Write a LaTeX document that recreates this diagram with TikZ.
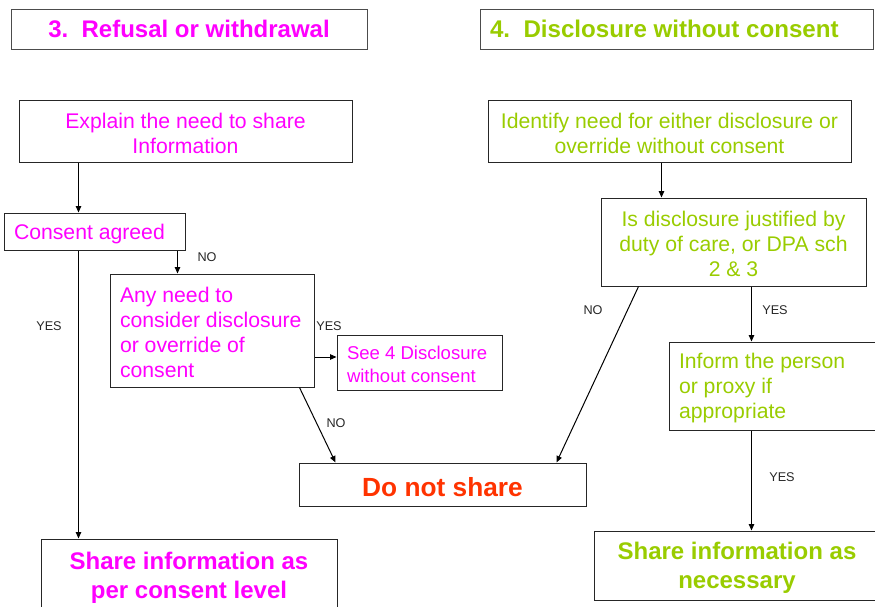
\documentclass[tikz,border=0pt]{standalone}
\usepackage{fontspec}
\setmainfont{Liberation Sans}
\usetikzlibrary{arrows.meta}
\definecolor{mag}{HTML}{FF00FF}
\definecolor{grn}{HTML}{99CC00}
\definecolor{rd}{HTML}{FF3300}
\def\u{0.75pt}
\tikzset{
  box/.style={draw=black!85, line width=0.75pt, inner xsep=10*\u, inner ysep=0pt, align=flush center},
  lbox/.style={box, align=flush left},
  lower/.style={execute at begin node={\rule{0pt}{0.95em}}},
  bodyfont/.style={lower, font=\fontsize{15.9}{18.75}\selectfont},
  smallfont/.style={lower, font=\fontsize{13.9}{17.25}\selectfont},
  bigfont/.style={lower, font=\fontsize{18}{21.75}\bfseries\selectfont},
  lbl/.style={font=\fontsize{9.5}{11}\selectfont, text=black!85, inner sep=0pt},
  arr/.style={-{Triangle[length=6.5*\u,width=5.5*\u]}, line width=0.75pt, black}
}
\begin{document}
\begin{tikzpicture}[x=0.75pt,y=-0.75pt]
\useasboundingbox (0,0) rectangle (875,607);
\clip (0,0) rectangle (875,607);
% titles
\node[box, minimum width=356*\u, minimum height=40*\u, text=mag, font=\fontsize{18}{21}\bfseries\selectfont, draw=black!70] (t3) at (189,29) {3.\ \ Refusal or withdrawal};
\node[lbox, text width=373*\u, minimum height=40*\u, text=grn, font=\fontsize{18.1}{21}\bfseries\selectfont, draw=black!70] (t4) at (676.5,29) {4.\ \ Disclosure without consent};
% left column
\node[box, bodyfont, text=mag, text width=313*\u, minimum height=62*\u] (explain) at (185.5,131) {Explain the need to share\\Information};
\node[lbox, bodyfont, text=mag, text width=161*\u, minimum height=37*\u] (consent) at (94.5,231.5) {Consent agreed};
\node[lbox, bodyfont, text=mag, text width=184*\u, minimum height=113*\u] (anyneed) at (212,330.5) {Any need to\\consider disclosure\\or override of\\consent};
\node[lbox, smallfont, text=mag, text width=145*\u, minimum height=55*\u] (see4) at (419.5,362.5) {See 4 Disclosure\\without consent};
\node[box, lower, text=rd, font=\fontsize{19.7}{23}\bfseries\selectfont, text width=267*\u, minimum height=43*\u] (donot) at (442.5,484.5) {Do not share};
\node[box, bigfont, text=mag, text width=276*\u, minimum height=72*\u] (shareL) at (189,575) {Share information as\\per consent level};
% right column
\node[box, bodyfont, text=grn, text width=343*\u, minimum height=62*\u] (identify) at (669.5,131) {Identify need for either disclosure or\\override without consent};
\node[box, bodyfont, text=grn, text width=245*\u, minimum height=88*\u] (isdisc) at (733.5,242) {Is disclosure justified by\\duty of care, or DPA sch\\2 \& 3};
\node[lbox, bodyfont, text=grn, text width=190*\u, minimum height=88*\u] (inform) at (774,386) {Inform the person\\or proxy if\\appropriate};
\node[box, bigfont, text=grn, text width=266*\u, minimum height=69*\u] (shareR) at (737,565.5) {Share information as\\necessary};
% connectors
\draw[arr] ([xshift=60*\u]explain.south west) -- ([xshift=60*\u]explain.south west |- consent.north);
\draw[arr] ([xshift=174*\u]consent.south west) -- ([xshift=174*\u]consent.south west |- anyneed.north);
\draw[arr] ([xshift=75*\u]consent.south west) -- ([xshift=75*\u]consent.south west |- shareL.north);
\coordinate (s4) at ([yshift=5.5*\u]see4.west);
\draw[arr] (anyneed.east |- s4) -- (s4);
\draw[arr] ([xshift=-15*\u]anyneed.south east) -- ([xshift=37*\u]donot.north west);
\draw[arr] ([xshift=174*\u]identify.south west) -- ([xshift=174*\u]identify.south west |- isdisc.north);
\draw[arr] ([xshift=38*\u]isdisc.south west) -- ([xshift=-30*\u]donot.north east);
\draw[arr] ([xshift=151*\u]isdisc.south west) -- ([xshift=151*\u]isdisc.south west |- inform.north);
\draw[arr] ([xshift=83*\u]inform.south west) -- ([xshift=83*\u]inform.south west |- shareR.north);
% labels
\node[lbl] (l1) at (207,257) {NO};
\node[lbl] (l2) at (49,326) {YES};
\node[lbl] (l3) at (329,326) {YES};
\node[lbl] (l4) at (336,423) {NO};
\node[lbl] (l5) at (593,310) {NO};
\node[lbl] (l6) at (775,310) {YES};
\node[lbl] (l7) at (782,477) {YES};
\end{tikzpicture}
\end{document}
